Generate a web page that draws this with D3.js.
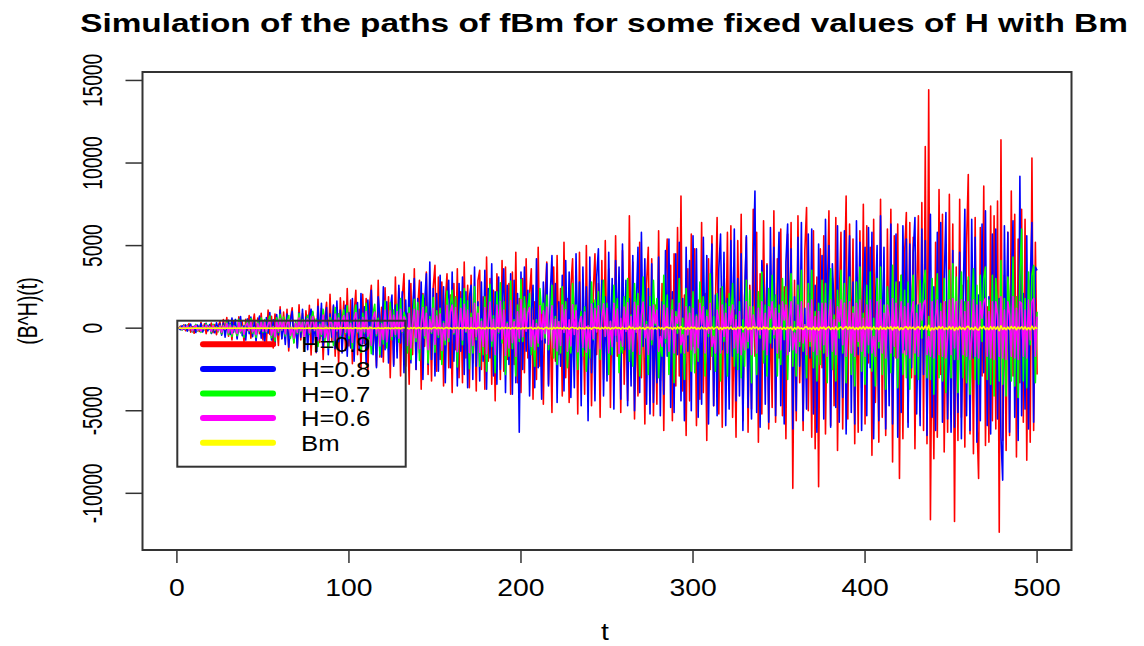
<!DOCTYPE html>
<html lang="en">
<head>
  <meta charset="utf-8">
  <title>Simulation of the paths of fBm</title>
  <script src="https://d3js.org/d3.v7.min.js"></script>
  <style>
    html, body { margin: 0; padding: 0; background: #fff; }
    svg { display: block; }
    text { font-family: Arial, "Liberation Sans", sans-serif; fill: #000; }
  </style>
</head>
<body>
  <svg width="1144" height="646"></svg>
  <script>
    // series, t = 1..500
    const seriesNames = ["H=0.9", "H=0.8", "H=0.7", "H=0.6", "Bm"];
    const seriesColors = ["#ff0000", "#0000ff", "#00ff00", "#ff00ff", "#ffff00"];
    const xTicks = [0, 100, 200, 300, 400, 500];
    const yTicks = [-10000, -5000, 0, 5000, 10000, 15000];

    const h09 = [
      0, 120, -80, 210, -150, 60, 280, -240, 90, -310, 180, 40, -200, 350, -120, 260, -330, 150, -60, 310, -270, 220, -390, 130, 400,
      -350, 520, -180, 640, -480, 300, -710, 450, 120, -560, 690, -260, 380, -820, 540, -140, 760, -600, 230, 850, -470, 610, -330, 900, -720,
      480, -950, 1100, -380, 720, -1200, 860, 250, -1050, 1300, -640, 980, -420, 1150, -1380, 560, 1240, -870, 330, -1160, 1420, -720, 880, -1250, 1050,
      -530, 1380, -1620, 940, 420, -1480, 1750, -860, 1210, -1900, 650, 1560, -1140, 2050, -780, 1330, -1700, 1020, -2200, 1840, -460, 1620, -1350, 2400, -1080,
      1700, -2150, 860, 2300, -1600, 1150, -2500, 2050, -940, 1800, -2700, 1400, 2600, -1250, 690, -2300, 2900, -1750, 1260, -2050, 2450, -880, 1900, -3000, 1550,
      -2200, 3100, -1400, 2400, -2900, 1800, 3300, -2300, 900, -3400, 2700, -1600, 3600, -2500, 1300, 2900, -3700, 2100, -1100, 3400, -2800, 1700, -3200, 2500, 3800,
      -2600, 3100, -1900, 2800, -3500, 1500, 3300, -2400, 2000, -3900, 2700, -1300, 3600, -3000, 2200, -3300, 4000, -1800, 2600, -3600, 3200, -2100, 1400, -3800, 2900,
      3500, -2500, 1900, -3700, 4300, -2000, 3000, -3400, 2300, -4400, 3300, 1600, -3100, 4100, -2600, 3700, -1900, 2700, -4000, 3400, -2200, 4600, -3300, 1800, -3900,
      3000, -2700, 4200, -1800, 2100, 3600, -4300, 1600, -3100, 4900, -2300, 1300, -4600, 1800, 4000, -3400, 800, -5100, 3700, -2000, 4400, -1600, 2400, -4100, 5200,
      -3000, 1800, -4500, 2500, 4200, -1300, 2900, -5200, 4600, -2400, 1400, -4000, 5000, -2800, 3100, -4700, 2200, 4500, -1600, 2700, -5400, 4100, -3100, 5300, -2500,
      3600, -4800, 2300, -2900, 5600, -1700, 2600, -5100, 4700, -3400, 1100, -4400, 6800, -2800, 4000, -5500, 1300, -4100, 5200, -3000, 2600, -5800, 2700, 4900, -3900,
      4200, -5300, 1400, -4600, 5900, -3200, 2700, -6200, 2900, 5400, -1200, 3800, -5600, 4500, -3500, 6100, -2900, 8000, -3800, 2000, -6500, 3600, -4400, 5700, -1100,
      4800, -5900, 1700, -4300, 6400, -3900, 2100, -6800, 4200, -2500, 5600, -4700, 1300, 6700, -5200, 2400, -6000, 3900, -1800, 5800, -3600, 6200, -5400, 1100, -6600,
      5300, -2000, 6900, -5600, 1800, 5500, -6300, 2600, -4900, 7200, -1700, 5800, -6900, 3300, -5200, 6500, -2400, 3900, -6100, 1100, -4800, 7100, -5700, 4200, -1800,
      6000, -5300, 2500, -6700, 5700, -1100, 6400, -9700, 2900, -5600, 6800, -3300, 1300, -6200, 4700, 7300, -5000, 2100, -6600, 5900, -7300, 3100, -9600, 4800, -2400,
      5600, -6400, 1400, 7100, -5900, 3000, -4700, 6700, -7400, 1600, 5800, -6100, 2200, 8000, -5500, 6300, -1900, 5400, -7000, 2800, -6300, 5900, -3600, 7500, -5800,
      6200, -2100, 4900, -7700, 6600, -4500, 1300, -6900, 7800, -5400, 2700, -6500, 6000, -3000, 7200, -8100, 5600, -1800, 6300, -9100, 3200, -6700, 4600, 7000, -5700,
      6400, -3000, 5500, -7300, 1900, 6800, -5300, 7600, -6200, 11000, -7000, 14440, -11600, 2100, -7900, 5200, -6600, 8400, -2800, 6900, -7500, 1600, -6300, 8100, -5000,
      6300, -11700, 3700, -6800, 7800, -5400, 2600, -7200, 5100, 9300, -6400, 2900, -7600, 6700, -5500, -9100, 6100, -2900, 8600, -7100, 1300, -6900, 7400, -5600, 6800,
      -6100, 7700, -12360, 11400, -6800, 3200, -7400, 5800, -6500, 8300, -2900, 6900, -7800, 5400, -3300, 7200, -5700, 6600, -8000, 2900, -6900, 10300, -6200, 5200, -2800
    ];

    const h08 = [
      0, -90, 150, -60, 200, -180, 70, 240, -210, 110, -260, 190, -40, 280, -230, 90, 300, -160, 220, -320, 140, -280, 330, -100, 260,
      -420, 310, -550, 180, 480, -380, 620, -240, 530, -650, 290, 700, -460, 140, -720, 560, -330, 680, -510, 410, -780, 250, 730, -600, 370,
      -880, 640, -300, 950, -720, 500, -1050, 820, -410, 1100, -640, 370, -980, 860, -1150, 450, 1020, -760, 300, -1200, 930, -540, 1150, -830, 680,
      -1300, 720, 1150, -980, 460, -1450, 1320, -640, 1500, -1100, 380, 1250, -1600, 870, -540, 1400, -1250, 1650, -820, 1100, -1500, 560, 1380, -1700, 940,
      -1200, 1800, -2000, 850, 1550, -1350, 2100, -950, 1300, -2200, 1700, -600, 2300, -1600, 1050, -2400, 1900, 700, -1750, 2500, -1300, 1600, -2100, 1150, 2000,
      -2300, 1400, -1800, 2600, -900, 2200, -2700, 1700, -1300, 2900, -2100, 1100, 3000, -2500, 1800, -1500, 2800, -3100, 1600, 3300, -2200, 4000, -1900, 2400, -2900,
      2100, -2600, 3200, -1700, 2500, -3300, 1500, 2900, -2400, 3400, -2000, 1800, -3500, 2700, -1400, 3100, -2800, 2200, -3600, 1900, 2600, -3100, 3700, -2300, 1600,
      -3200, 2800, -2000, 3500, -3700, 2400, -1800, 3900, -2900, 2200, -3400, 3100, -2500, 1700, 3600, -3900, 2600, -2200, 3300, -4000, 2900, -3300, 2100, -6300, 3400,
      -2500, 3700, -1400, 2300, -4100, 1000, 2600, -3600, 4200, -2400, 1300, -4300, 2800, -900, 3900, -3500, 2000, 4400, -1100, 2700, -4500, 1600, -2300, 3200, -3800,
      4100, -1900, 3400, -4200, 900, -3600, 4500, -1000, 2800, -4700, 3700, -1300, 2500, -5600, 4300, -2700, 1500, -4400, 3100, 4800, -1800, 2900, -4100, 1900, -3200,
      4600, -1600, 3000, -4900, 4100, -800, 3700, -4300, 5100, -1300, 2900, -4700, 1800, -3500, 4400, -5000, 1200, 4900, -3900, 5800, -1100, 4200, -4600, 2400, -5200,
      3900, -4500, 1000, -3300, 4300, -5300, 1600, -4000, 4700, -1700, 5400, -4800, 2200, -5100, 4500, -1600, 5200, -4400, 1800, -5600, 4900, -1400, 4100, -5000, 5600,
      -2200, 4800, -5400, 1700, -4600, 5500, -1900, 4400, -5800, 1500, 5100, -4700, 2000, -5300, 3600, 5700, -1300, 4600, -5900, 1800, -4900, 5300, -1700, 6000, -4400,
      3000, -4100, 4500, -6200, 1900, 5600, -4800, 1300, -5500, 3700, 8300, -5100, 1700, -6000, 4100, 2400, -4600, 3800, -5700, 6100, -1200, 4900, -5300, 1600, 5800,
      -4700, 2200, -5800, 4000, 6300, -1400, 4800, -6100, 1900, -5000, 5500, -2300, 6400, -5600, 1200, -4900, 5700, -1800, 6000, -5200, 2600, -6300, 5100, -1100, 4400,
      -5500, 6600, -1500, 5000, -6000, 3900, 1300, -4800, 6200, -5700, 2400, -4200, 5900, -6400, 1700, 5600, -5100, 2800, -5800, 6500, -1600, 5200, -6200, 2100, 4900,
      -5300, 6100, -2400, 5800, -6700, 1300, 5000, -5600, 6800, -1500, 4900, -6100, 2500, -4700, 6300, -5800, 1200, 5700, -6600, 2800, -5100, 6200, -1300, 5400, -6000,
      5100, -2400, 4600, 6700, -5200, 1400, -5900, 6000, -2800, 5300, -6500, 1900, 6900, -5400, 2500, -6200, 5800, -1600, 6400, -5700, 2800, 7000, -5500, 1100, -6300,
      4700, -6000, 2100, -5100, 4600, -6700, 1600, 7200, -5300, 2900, -6200, 6600, -1800, 5500, -6900, 2000, -5600, 6300, -2700, 7100, -5900, 1900, -6400, 5700, -2200,
      6000, -5500, 1800, -6600, -9200, 6200, -2000, 5800, -6300, 2700, 6500, -5400, 1100, -6800, 9200, -5300, 2100, -4900, 5600, -6100, 2800, 6400, -5700, 3700, 3500
    ];

    const h07 = [
      0, 70, -120, 160, -50, 190, -140, 90, -210, 30, 230, -170, 60, -250, 120, -90, 270, -40, 110, -280, 240, -130, 80, -220, 160,
      -330, 180, -60, 440, -400, 260, -500, 150, 80, -460, 530, -280, 110, -550, 200, 470, -180, 590, -310, 30, -560, 420, -190, 610, -250,
      520, -260, 300, 740, -580, 110, -780, 630, -250, 820, -140, 680, -470, 360, 760, -620, 50, -900, 400, -330, 880, -210, 520, -940, 210,
      780, -380, 420, 1020, -160, 560, -1100, 290, -490, 1150, -820, 140, -1200, 650, 380, -1050, 1250, -200, 870, -600, 580, 1100, -330, 1350, -620,
      400, -1250, 740, 1400, -280, 520, -1450, 900, -300, 1500, -680, 100, -1550, 880, 1450, -450, 600, -1600, 350, -950, 1650, -1200, 180, 1550, -700,
      1100, -500, 1450, -850, 1800, -250, 960, 600, -1500, 1250, -1900, 200, 1750, -800, 1550, -1950, 350, 2000, -600, 1300, -2100, 700, -300, 1850, -1450,
      1050, -550, 1200, -2200, 400, -1000, 2250, -800, 1400, 2300, -350, 1900, -2350, 100, 1800, -1000, 2400, -250, 1650, -2450, 900, -1500, 2500, -700, 1300,
      -2300, 550, -1600, 1900, -2600, 400, 2650, -1100, 750, -2700, 2200, -300, 2750, -900, 1600, -2800, 350, -1700, 2850, -1250, 500, -2900, 1400, -800, 2950,
      -800, 1900, 300, 1200, 2100, -1600, -400, -2300, 500, -1100, 2400, 900, 1500, -600, 2000, -1300, -200, 2600, -1800, 700, -2200, 400, -1500, 2500, 100,
      1600, -2400, -500, -1500, 2700, 600, 1400, -2500, 300, 1000, -1700, 1300, -2600, -150, -1800, 2800, -700, 1700, 200, 2200, -1900, 900, 2900, -500, 1500,
      -2800, 400, -1600, 2600, 100, 1800, -2700, -800, -1500, 1900, 300, 3000, -2000, 800, -2300, 2700, 500, 2100, -2900, -900, 3100, -600, 400, -2800, 1900,
      -1000, 2900, 200, 1800, -3000, -700, -1700, 3200, -900, 2000, -2800, 500, 1700, -3300, 1000, -300, 3000, -1500, 600, -3100, 2400, -400, 1300, -2600, 2200,
      -2700, 800, -2000, 2800, 300, 1900, -2900, 1100, -500, 3300, -1700, 700, -2600, 2100, 600, -3200, 2500, -800, 1500, -2900, 2100, 200, 2700, -2300, 800,
      -2500, 1600, -3000, 500, -2300, 2900, -1200, 2300, -3300, 1300, 200, -2800, 2200, -600, 3400, -2100, 1400, -2900, 2400, -900, 3200, -600, 2000, -2900, 1400,
      -2200, 3000, -700, 2500, -3100, 900, 3300, -2300, 400, -2900, 2600, -1100, 3500, -1400, 200, -3000, 2700, -1100, 3500, -2400, 1000, -3200, 1500, -2200, 2900,
      -1500, 2700, -3300, 1000, 3600, -2500, 800, -3200, 2300, -600, 3500, -1500, 2700, -3300, 400, 3100, -2800, 1300, -3500, 2800, -1100, 3700, -2600, 900, -3400,
      2600, -1500, 3400, -2600, 600, -3500, 3000, -1200, 3700, -2800, 1400, -3700, 2500, 900, -2700, 3800, -1700, 2800, -3600, 500, 3200, -2800, 2300, -3000, 2800,
      -3700, 1300, 3200, -2800, 1400, -3100, 2900, -600, 2700, 3500, -3000, 700, -3100, 3000, -4000, 1000, 3300, -3000, 1500, -3200, 3000, -3900, 700, 3500, -3000,
      3900, -1900, 3100, -3900, 700, 3400, -3000, 1600, -3300, 3100, -4000, 800, 3600, -3100, 2600, -3400, 3200, -800, 3000, 3700, -3100, 1700, -3400, 3200, -4100,
      3000, 1300, -3200, 4100, -3400, 1800, -4100, 3100, 1300, -3200, 4300, -3500, 1900, -4200, 3100, 6000, -3200, 1800, -3600, 3400, -1000, 3200, 3800, -3300, 1000
    ];

    const h06 = [
      0, 60, -90, 120, -40, 150, -110, 80, -160, 50, 170, -130, 40, -180, 100, -70, 190, -30, 90, -200, 160, -100, 60, -170, 130,
      -250, 140, -60, 300, -280, 190, -340, 110, 70, -310, 360, -200, 90, -380, 150, 320, -130, 400, -230, 50, -390, 290, -150, 420, -190,
      380, -200, 240, 500, -420, 90, -530, 440, -180, 560, -110, 470, -350, 270, 520, -440, 60, -600, 300, -250, 610, -160, 380, -630, 170,
      560, -290, 320, 700, -130, 420, -760, 220, -370, 790, -580, 120, -820, 470, 290, -730, 850, -160, 610, -440, 420, 770, -250, 900, -460,
      300, -870, 540, 950, -220, 390, -980, 650, -230, 1000, -490, 90, -1050, 630, 980, -340, 440, -1080, 270, -680, 1100, -830, 150, 1050, -500,
      780, -380, 1000, -610, 1150, -200, 690, 440, -1050, 880, -1200, 160, 1150, -580, 1050, -1250, 270, 1250, -450, 900, -1300, 510, -230, 1200, -990,
      740, -410, 850, -1350, 300, -720, 1380, -580, 980, 1400, -270, 1250, -1420, 90, 1200, -720, 1450, -200, 1100, -1480, 650, -1050, 1500, -520, 900,
      -1450, 410, -1100, 1250, -1550, 300, 1580, -780, 540, -1600, 1400, -230, 1620, -650, 1100, -1650, 270, -1200, 1680, -880, 380, -1700, 990, -600, 1720,
      -520, 1200, -180, 950, 1250, -1100, 480, -1300, 280, -900, 1350, -700, 1050, -330, 1280, -980, 220, 1350, -1200, 540, -1380, 390, -1050, 1400, -260,
      1120, -1400, 500, -1080, 1420, -380, 1050, -1430, 340, 710, -1160, 980, -1450, 150, -1240, 1460, -620, 1190, -230, 1350, -1260, 650, 1480, -490, 1200,
      -1500, 410, -1120, 1500, -440, 1160, -1530, 600, -1090, 1280, -200, 1540, -1280, 710, -1390, 1560, -250, 1350, -1570, 810, 1580, -570, 200, -1590, 1310,
      -700, 1400, 300, 1100, -1400, -500, -1100, 1400, -600, 1200, -1400, 200, 1100, -1500, 700, 300, 1500, -1000, -400, -1500, 1300, -400, 900, -1300, 1200,
      -1500, 700, -1200, 1500, 200, 1300, -1500, 700, -300, 1500, -1100, -500, -1500, 1100, 400, -1500, 1400, -500, 900, -1500, 1300, 200, 1400, -1200, 500,
      -1500, 1000, -1600, -300, -1300, 1600, -800, 1300, -1600, 800, 150, -1500, 1200, -400, 1600, -1300, 900, -1600, 1300, 600, 1600, -400, 1200, -1500, 900,
      -1300, 1600, 500, 1400, -1600, 600, 1600, -1300, -300, -1500, 1400, -800, 1600, -900, 200, -1600, 1500, -800, 1700, -1400, 700, -1600, 1000, -1300, 1500,
      -1000, 1500, -1700, 700, 1700, -1400, 500, -1600, 1300, 400, 1700, -1000, 1500, -1700, -300, 1600, -1500, 900, -1700, 1500, -800, 1700, -1400, 600, -1700,
      1400, -1000, 1700, -1500, -500, -1700, 1600, -800, 1700, -1500, 900, -1800, 1400, 700, -1500, 1800, -1100, 1500, -1800, 400, 1600, -1500, 1300, -1600, 1500,
      -1800, 900, 1600, -1500, 900, -1700, 1500, 500, 1500, 1700, -1600, -500, -1700, 1600, -1800, 700, 1700, -1600, 1000, -1700, 1600, -1800, -500, 1700, -1600,
      1800, -1200, 1600, -1900, 500, 1700, -1600, 1000, -1700, 1600, -1900, -500, 1700, -1700, 1400, -1800, 1600, 600, 1600, 1800, -1700, 1000, -1800, 1600, -1900,
      1600, 800, -1700, 1900, -1800, 1100, -1900, 1600, 800, -1700, 1900, -1800, 1200, -1900, 1600, 1500, -1700, 1100, -1800, 1700, -700, 1600, 1800, -1700, 700
    ];

    const bm = [
      0, 2, -1, 3, -2, 1, 4, -3, 2, -4, 3, 1, -2, 5, -3, 2, -5, 4, -1, 6, -4, 3, -6, 2, 5,
      -5, 7, -3, 8, -6, 4, -9, 6, 2, -7, 9, -4, 5, -10, 7, -2, 10, -8, 3, 11, -6, 8, -4, 12, -9,
      6, -12, 14, -5, 9, -15, 11, 3, -13, 16, -8, 12, -5, 14, -17, 7, 15, -11, 4, -14, 18, -9, 11, -16, 13,
      -7, 17, -20, 12, 5, -18, 21, -11, 15, -23, 8, 19, -14, 25, -10, 16, -21, 13, -27, 22, -6, 20, -17, 29, -13,
      21, -26, 11, 28, -20, 14, -30, 25, -12, 22, -33, 17, 31, -15, 9, -28, 35, -21, 15, -25, 30, -11, 23, -36, 19,
      -27, 37, -17, 29, -35, 22, 39, -28, 11, -41, 33, -20, 43, -30, 16, 35, -44, 25, -13, 41, -34, 21, -39, 30, 46,
      -31, 38, -23, 34, -42, 18, 40, -29, 24, -47, 33, -16, 44, -36, 27, -40, 48, -22, 31, -43, 39, -25, 17, -46, 35,
      42, -30, 23, -45, 52, -24, 36, -41, 28, -53, 40, 19, -37, 50, -31, 45, -23, 33, -48, 41, -27, 55, -40, 22, -47,
      36, -33, 51, -22, 25, 44, -52, 19, -37, 59, -28, 16, -55, 22, 48, -41, 10, -61, 45, -24, 53, -19, 29, -49, 63,
      -36, 22, -54, 30, 51, -16, 35, -63, 56, -29, 17, -48, 60, -34, 37, -57, 27, 54, -19, 33, -65, 49, -37, 64, -30,
      43, -58, 28, -35, 68, -21, 31, -62, 57, -41, 13, -53, 110, -34, 48, -66, 16, -49, 63, -36, 31, -70, 33, 59, -47,
      51, -64, 17, -55, 71, -39, 33, -75, 35, 65, -14, 46, -68, 54, -42, 74, -35, 97, -46, 24, -78, 43, -53, 69, -13,
      58, -71, 21, -52, 77, -47, 25, -82, 51, -30, 68, -57, 16, 81, -63, 29, -72, 47, -22, 70, -43, 75, -65, 13, -80,
      64, -24, 83, -68, 22, 66, -76, 31, -59, 87, -21, 70, -83, 40, -63, 78, -29, 47, -74, 13, -58, 86, -69, 51, -22,
      72, -64, 30, -81, 69, -13, 77, -117, 35, -68, 82, -40, 16, -75, 57, 88, -60, 25, -80, 71, -88, 37, -116, 58, -29,
      68, -77, 17, 86, -71, 36, -57, 81, -89, 19, 70, -74, 27, 97, -66, 76, -23, 65, -85, 34, -76, 71, -43, 91, -70,
      75, -25, 59, -93, 80, -54, 16, -83, 94, -65, 33, -78, 72, -36, 87, -98, 68, -22, 76, -110, 39, -81, 56, 85, -69,
      77, -36, 66, -88, 23, 82, -64, 92, -75, 133, -85, 174, -140, 25, -95, 63, -80, 101, -34, 83, -91, 19, -76, 98, -60,
      76, -141, 45, -82, 94, -65, 31, -87, 62, 112, -77, 35, -92, 81, -66, -110, 74, -35, 104, -86, 16, -83, 89, -68, 82,
      -74, 93, -149, 138, -82, 39, -89, 70, -78, 100, -35, 83, -94, 65, -40, 87, -69, 80, -97, 35, -83, 124, -75, 63, -34
    ];

    const allSeries = [h09, h08, h07, h06, bm];

    const svg = d3.select("svg");
    const box = { left: 142.5, right: 1071.5, top: 72, bottom: 550 };

    // R style: 4% padding on both ranges
    const xPad = (500 - 0) * 0.04;
    const x = d3.scaleLinear()
      .domain([0 - xPad, 500 + xPad])
      .range([box.left, box.right]);

    const ext = d3.extent(allSeries.flat());
    const yPad = (ext[1] - ext[0]) * 0.04;
    const y = d3.scaleLinear()
      .domain([ext[0] - yPad, ext[1] + yPad])
      .range([box.bottom, box.top]);

    // lines, drawn in the order of the legend
    const line = d3.line()
      .x((d, i) => x(i + 1))
      .y(d => y(d));

    const lineLayer = svg.append("g");
    allSeries.forEach((s, k) => {
      lineLayer.append("path")
        .datum(s)
        .attr("fill", "none")
        .attr("stroke", seriesColors[k])
        .attr("stroke-width", 1.6)
        .attr("stroke-linejoin", "round")
        .attr("d", line);
    });

    // plot box
    svg.append("rect")
      .attr("x", box.left).attr("y", box.top)
      .attr("width", box.right - box.left)
      .attr("height", box.bottom - box.top)
      .attr("fill", "none")
      .attr("stroke", "#333")
      .attr("stroke-width", 2);

    // bottom axis
    const xAxis = svg.append("g");
    xAxis.selectAll("line")
      .data(xTicks).enter().append("line")
      .attr("x1", d => x(d)).attr("x2", d => x(d))
      .attr("y1", box.bottom).attr("y2", box.bottom + 13)
      .attr("stroke", "#333").attr("stroke-width", 1.5);
    xAxis.selectAll("text")
      .data(xTicks).enter().append("text")
      .attr("text-anchor", "middle")
      .attr("font-size", 24)
      .attr("transform", d => `translate(${x(d)},596) scale(1.18,1)`)
      .text(d => d);

    // left axis, labels turned
    const yAxis = svg.append("g");
    yAxis.selectAll("line")
      .data(yTicks).enter().append("line")
      .attr("x1", box.left - 17).attr("x2", box.left)
      .attr("y1", d => y(d)).attr("y2", d => y(d))
      .attr("stroke", "#333").attr("stroke-width", 1.5);
    yAxis.selectAll("text")
      .data(yTicks).enter().append("text")
      .attr("text-anchor", "middle")
      .attr("font-size", 27)
      .attr("transform", d => `translate(102,${y(d)}) rotate(-90) scale(0.71,1)`)
      .text(d => d);

    // title and axis titles
    const title = svg.append("text")
      .attr("text-anchor", "middle")
      .attr("font-size", 25)
      .attr("font-weight", "bold")
      .text("Simulation of the paths of fBm for some fixed values of H with Bm");
    const tw = title.node().getComputedTextLength();
    title.attr("transform", `translate(604,32) scale(${1048 / tw},1)`);

    svg.append("text")
      .attr("text-anchor", "middle")
      .attr("font-size", 24)
      .attr("transform", "translate(605,640) scale(1.18,1)")
      .text("t");

    svg.append("text")
      .attr("text-anchor", "middle")
      .attr("font-size", 27)
      .attr("transform", "translate(37,311) rotate(-90) scale(0.72,1)")
      .text("(B^H)(t)");

    // legend, no fill so the paths show through
    const legend = svg.append("g");
    legend.append("rect")
      .attr("x", 177.3).attr("y", 320.7)
      .attr("width", 228.4).attr("height", 146)
      .attr("fill", "none")
      .attr("stroke", "#333")
      .attr("stroke-width", 2);
    seriesNames.forEach((name, k) => {
      const ly = 344.3 + k * 24.6;
      legend.append("line")
        .attr("x1", 203).attr("x2", 273)
        .attr("y1", ly).attr("y2", ly)
        .attr("stroke", seriesColors[k])
        .attr("stroke-width", 6)
        .attr("stroke-linecap", "round");
      legend.append("text")
        .attr("font-size", 22)
        .attr("transform", `translate(301,${ly + 8}) scale(1.17,1)`)
        .text(name);
    });
  </script>
</body>
</html>
